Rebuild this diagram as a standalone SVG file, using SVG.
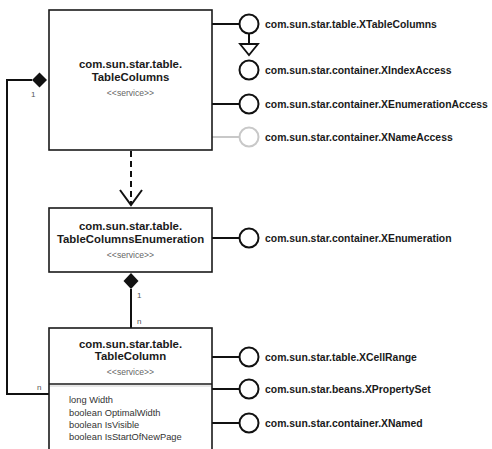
<svg xmlns="http://www.w3.org/2000/svg" width="492" height="449" viewBox="0 0 492 449">
<style>
.box{fill:#fff;stroke:#1a1a1a;stroke-width:1.6}
.t{font-family:"Liberation Sans",Arial,sans-serif;font-weight:bold;font-size:11.4px;fill:#1a1a1a;text-anchor:middle}
.st{font-family:"Liberation Sans",Arial,sans-serif;font-size:8.6px;fill:#666;text-anchor:middle}
.at{font-family:"Liberation Sans",Arial,sans-serif;font-size:9.3px;fill:#333}
.lbl{font-family:"Liberation Sans",Arial,sans-serif;font-weight:bold;font-size:10.4px;fill:#1a1a1a}
.m{font-family:"Liberation Sans",Arial,sans-serif;font-size:8px;fill:#555}
.ln{stroke:#111;stroke-width:2;fill:none}
.lol{fill:#fff;stroke:#111;stroke-width:2}
.gray{stroke:#c8c8c8}
</style>
<g id="connectors">
  <polyline class="ln" points="32,80 7,80 7,394 49,394"/>
  <polygon points="32,80 39.5,72.5 47,80 39.5,87.5" fill="#111"/>
  <text class="m" x="31" y="97">1</text>
  <text class="m" x="37" y="390">n</text>
  <line class="ln" x1="131" y1="151" x2="131" y2="204" stroke-dasharray="6,4"/>
  <polyline class="ln" points="120,190 131,205 142,190"/>
  <line class="ln" x1="131" y1="289" x2="131" y2="328"/>
  <polygon points="131,273 138.5,281 131,289 123.5,281" fill="#111"/>
  <text class="m" x="137" y="298">1</text>
  <text class="m" x="137" y="324">n</text>
  <line class="ln" x1="212" y1="24" x2="239.5" y2="24"/>
  <line class="ln" x1="249" y1="33.5" x2="249" y2="44"/>
  <polygon points="240,44 258,44 249,55" fill="#fff" stroke="#111" stroke-width="1.8"/>
  <line class="ln" x1="212" y1="104" x2="239.5" y2="104"/>
  <line class="ln gray" x1="212" y1="137" x2="239.5" y2="137"/>
  <line class="ln" x1="212" y1="238" x2="239.5" y2="238"/>
  <line class="ln" x1="212" y1="357" x2="239.5" y2="357"/>
  <line class="ln" x1="212" y1="389" x2="239.5" y2="389"/>
  <line class="ln" x1="212" y1="423" x2="239.5" y2="423"/>
</g>
<g id="TableColumns">
  <rect class="box" x="49" y="10" width="163" height="140"/>
  <text class="t" x="130.5" y="68">com.sun.star.table.</text>
  <text class="t" x="130.5" y="81">TableColumns</text>
  <text class="st" x="130.5" y="96">&lt;&lt;service&gt;&gt;</text>
</g>
<g id="TableColumnsEnumeration">
  <rect class="box" x="49" y="208" width="163" height="64"/>
  <text class="t" x="130.5" y="230">com.sun.star.table.</text>
  <text class="t" x="130.5" y="243">TableColumnsEnumeration</text>
  <text class="st" x="130.5" y="258">&lt;&lt;service&gt;&gt;</text>
</g>
<g id="TableColumn">
  <rect class="box" x="49" y="328" width="163" height="130"/>
  <line x1="49" y1="384" x2="212" y2="384" stroke="#1a1a1a" stroke-width="1.6"/>
  <line x1="50" y1="386" x2="211" y2="386" stroke="#e6e6e6" stroke-width="2"/>
  <text class="t" x="130.5" y="348">com.sun.star.table.</text>
  <text class="t" x="130.5" y="360">TableColumn</text>
  <text class="st" x="130.5" y="375">&lt;&lt;service&gt;&gt;</text>
  <text class="at" x="69" y="403">long Width</text>
  <text class="at" x="69" y="415.5">boolean OptimalWidth</text>
  <text class="at" x="69" y="427.5">boolean IsVisible</text>
  <text class="at" x="69" y="440">boolean IsStartOfNewPage</text>
</g>
<g id="XTableColumns">
  <circle class="lol" cx="249" cy="24" r="9.5"/>
  <text class="lbl" x="265" y="28">com.sun.star.table.XTableColumns</text>
</g>
<g id="XIndexAccess">
  <circle class="lol" cx="249" cy="70" r="9.5"/>
  <text class="lbl" x="265" y="74">com.sun.star.container.XIndexAccess</text>
</g>
<g id="XEnumerationAccess">
  <circle class="lol" cx="249" cy="104" r="9.5"/>
  <text class="lbl" x="265" y="108">com.sun.star.container.XEnumerationAccess</text>
</g>
<g id="XNameAccess">
  <circle class="lol gray" cx="249" cy="137" r="9.5"/>
  <text class="lbl" x="265" y="141">com.sun.star.container.XNameAccess</text>
</g>
<g id="XEnumeration">
  <circle class="lol" cx="249" cy="238" r="9.5"/>
  <text class="lbl" x="265" y="242">com.sun.star.container.XEnumeration</text>
</g>
<g id="XCellRange">
  <circle class="lol" cx="249" cy="357" r="9.5"/>
  <text class="lbl" x="265" y="361">com.sun.star.table.XCellRange</text>
</g>
<g id="XPropertySet">
  <circle class="lol" cx="249" cy="389" r="9.5"/>
  <text class="lbl" x="265" y="393">com.sun.star.beans.XPropertySet</text>
</g>
<g id="XNamed">
  <circle class="lol" cx="249" cy="423" r="9.5"/>
  <text class="lbl" x="265" y="427">com.sun.star.container.XNamed</text>
</g>
</svg>
